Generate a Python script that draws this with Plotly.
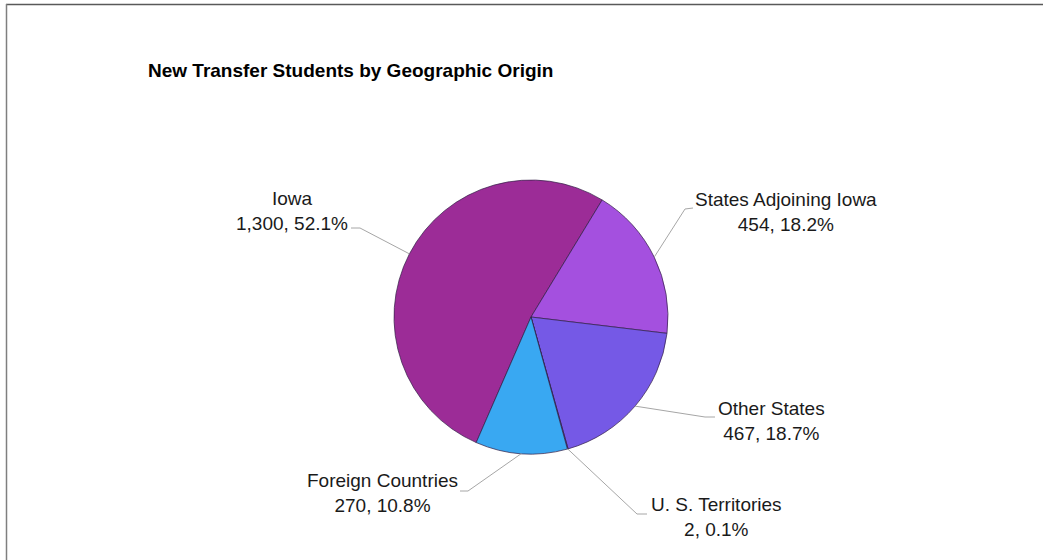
import math
import plotly.graph_objects as go

# ---- data ----
categories = ["Iowa", "States Adjoining Iowa", "Other States", "U. S. Territories", "Foreign Countries"]
students = [1300, 454, 467, 2, 270]
percent_labels = ["52.1%", "18.2%", "18.7%", "0.1%", "10.8%"]
colors = ["#9C2C97", "#A450DF", "#7559E6", "#5A63D8", "#39A8F2"]

# ---- layout constants (pixels) ----
W, H = 1043, 560
CX, CY, R = 531, 317, 137
START_SECOND = 31.3  # clockwise angle (deg from 12 o'clock) where slice 2 starts
FONT = "Liberation Sans, Arial, sans-serif"

# label centre positions and leader-line attachment points (px)
label_pos = [(292, 211), (786, 212), (771, 421), (716, 517), (382, 493)]
attach = [((351, 228), (360, 228)),
          ((693, 208), (685, 209)),
          ((715, 417), (705, 417)),
          ((647, 514), (637, 514)),
          ((460, 491), (468, 491))]

def px(x):
    return x / W

def py(y):
    return 1 - y / H

total = sum(students)
rotation = START_SECOND - 360 * students[0] / total

fig = go.Figure(go.Pie(
    labels=categories,
    values=students,
    sort=False,
    direction="clockwise",
    rotation=rotation,
    textinfo="none",
    marker=dict(colors=colors, line=dict(color="rgba(50,30,70,0.7)", width=1)),
    domain=dict(x=[px(CX - R), px(CX + R)], y=[py(CY + R), py(CY - R)]),
    showlegend=False,
))

annotations = []
shapes = []
cum = 0.0
for i, (cat, v, pct) in enumerate(zip(categories, students, percent_labels)):
    mid = rotation + 360 * (cum + v / 2) / total
    cum += v
    a = math.radians(mid)
    ex, ey = CX + R * math.sin(a), CY - R * math.cos(a)
    lx, ly = label_pos[i]
    annotations.append(dict(
        x=px(lx), y=py(ly), xref="paper", yref="paper",
        text=f"{cat}<br>{v:,}, {pct}", showarrow=False,
        xanchor="center", yanchor="middle", align="center",
        font=dict(family=FONT, size=19, color="#1a1a1a"),
    ))
    (p0, p1) = attach[i]
    shapes.append(dict(type="line", xref="paper", yref="paper",
                       x0=px(p0[0]), y0=py(p0[1]), x1=px(p1[0]), y1=py(p1[1]),
                       line=dict(color="#A6A6A6", width=1)))
    shapes.append(dict(type="line", xref="paper", yref="paper",
                       x0=px(p1[0]), y0=py(p1[1]), x1=px(ex), y1=py(ey),
                       line=dict(color="#A6A6A6", width=1)))

# title
annotations.append(dict(
    x=px(146), y=py(70), xref="paper", yref="paper",
    text="<b>New Transfer Students by Geographic Origin</b>", showarrow=False,
    xanchor="left", yanchor="middle",
    font=dict(family=FONT, size=19, color="#000000"),
))

# chart border (top and left visible)
shapes.append(dict(type="line", xref="paper", yref="paper", x0=px(6), y0=py(4.5), x1=px(1043), y1=py(4.5),
                   line=dict(color="#595959", width=1.5)))
shapes.append(dict(type="line", xref="paper", yref="paper", x0=px(6.5), y0=py(4), x1=px(6.5), y1=py(560),
                   line=dict(color="#7F7F7F", width=1.5)))

fig.update_layout(
    width=W, height=H,
    margin=dict(l=0, r=0, t=0, b=0),
    paper_bgcolor="white", plot_bgcolor="white",
    annotations=annotations, shapes=shapes,
)

fig.write_html(
    "out.html",
    config={"displayModeBar": False},
    post_script="document.body.style.margin='0px';document.documentElement.style.overflow='hidden';",
)
